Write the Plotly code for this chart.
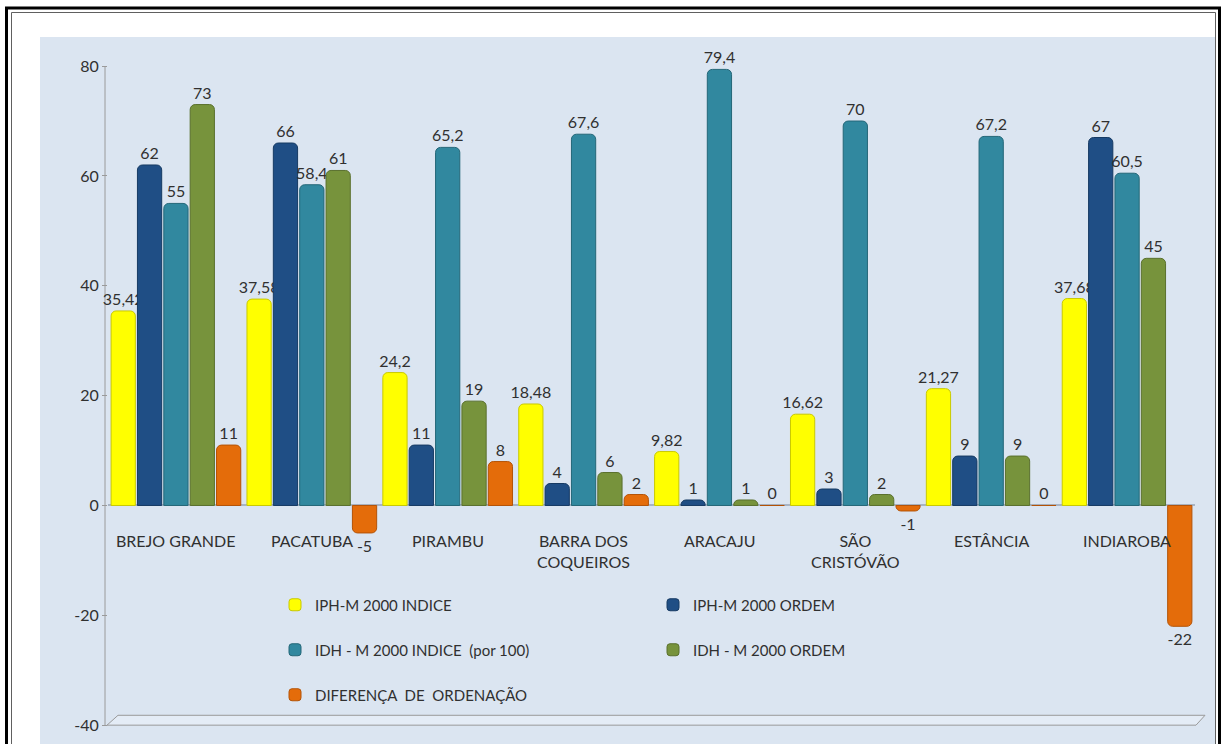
import plotly.graph_objects as go

categories = ["BREJO GRANDE", "PACATUBA", "PIRAMBU", "BARRA DOS<br>COQUEIROS",
              "ARACAJU", "SÃO<br>CRISTÓVÃO", "ESTÂNCIA", "INDIAROBA"]
iph_indice = [35.42, 37.58, 24.2, 18.48, 9.82, 16.62, 21.27, 37.68]
iph_ordem = [62, 66, 11, 4, 1, 3, 9, 67]
idh_indice = [55, 58.4, 65.2, 67.6, 79.4, 70, 67.2, 60.5]
idh_ordem = [73, 61, 19, 6, 1, 2, 9, 45]
diferenca = [11, -5, 8, 2, 0, -1, 0, -22]
y_ticks = [-40, -20, 0, 20, 40, 60, 80]

series_names = ["IPH-M 2000 INDICE", "IPH-M 2000 ORDEM", "IDH - M 2000 INDICE  (por 100)",
                "IDH - M 2000 ORDEM", "DIFERENÇA  DE  ORDENAÇÃO"]
series_values = [iph_indice, iph_ordem, idh_indice, idh_ordem, diferenca]
colors = ["#ffff00", "#1f4e85", "#31889f", "#77933c", "#e46c0a"]
edge_colors = ["#c9c900", "#163a63", "#246778", "#5a702d", "#b45306"]
legend_ids = ["legend", "legend", "legend2", "legend2", "legend3"]

FONT = "Lato, Roboto, sans-serif"

W, H = 1223, 744
ML, MR, MT, MB = 108, 28, 37, 4
PW, PH = W - ML - MR, H - MT - MB


def px_x(px):
    return (px - ML) / PW


def px_y(py):
    return 1 - (py - MT) / PH


def fmt(v):
    return f"{v:g}".replace(".", ",")


fig = go.Figure()
for name, vals, c, ec, lg in zip(series_names, series_values, colors, edge_colors, legend_ids):
    fig.add_trace(go.Bar(
        name=name, x=categories, y=vals,
        marker=dict(color=c, line=dict(color=ec, width=1), cornerradius=5),
        text=[fmt(v) for v in vals], textposition="outside",
        textfont=dict(family=FONT, size=16, color="#303030"),
        constraintext="none", cliponaxis=False, legend=lg,
    ))

# category labels placed under the zero line
for cat in categories:
    fig.add_annotation(x=cat, y=0, xref="x", yref="y", text=cat, showarrow=False,
                       yanchor="top", yshift=-24,
                       font=dict(family=FONT, size=16, color="#303030"))

shapes = [
    # blue chart-area background
    dict(type="rect", xref="paper", yref="paper", x0=px_x(40), x1=px_x(1215),
         y0=px_y(750), y1=px_y(37), fillcolor="#dbe5f1", line=dict(width=0), layer="below"),
    # outer double frame
    dict(type="rect", xref="paper", yref="paper", x0=px_x(6.5), x1=px_x(1219.5),
         y0=px_y(760), y1=px_y(8), line=dict(color="black", width=3), layer="above"),
    dict(type="rect", xref="paper", yref="paper", x0=px_x(11.5), x1=px_x(1215.5),
         y0=px_y(760), y1=px_y(12.5), line=dict(color="#606060", width=1), layer="above"),
    # vertical wall edge (axis line)
    dict(type="line", xref="paper", yref="y", x0=px_x(105), x1=px_x(105), y0=-40, y1=80,
         line=dict(color="#9a9a9a", width=1), layer="below"),
    # floor at -40
    dict(type="path", xref="paper", yref="y",
         path=f"M {px_x(107)},-40 L {px_x(118)},-38.2 L {px_x(1205)},-38.2 L {px_x(1196)},-40 Z",
         fillcolor="#e4ecf6", line=dict(color="#9a9a9a", width=1), layer="below"),
]

legend_common = dict(orientation="h", xanchor="left", yanchor="middle", entrywidth=333,
                     bgcolor="rgba(0,0,0,0)", font=dict(family=FONT, size=15, color="#303030"))

fig.update_layout(
    width=W, height=H,
    margin=dict(l=ML, r=MR, t=MT, b=MB),
    paper_bgcolor="white", plot_bgcolor="rgba(0,0,0,0)",
    barmode="group", bargap=0.03, bargroupgap=0.08,
    separators=",.",
    font=dict(family=FONT, size=15, color="#303030"),
    shapes=shapes,
    xaxis=dict(showticklabels=False, showgrid=False, zeroline=False, showline=False,
               range=[-0.5, 7.5]),
    yaxis=dict(range=[-42.7, 85.3], tickvals=y_ticks, ticktext=[str(t) for t in y_ticks],
               ticks="outside", ticklen=5, tickcolor="#9a9a9a", showgrid=False,
               zeroline=True, zerolinecolor="#a8b4c4", zerolinewidth=2, showline=False,
               tickfont=dict(family=FONT, size=16, color="#303030")),
    legend=dict(x=px_x(275), y=px_y(605), **legend_common),
    legend2=dict(x=px_x(275), y=px_y(650), **legend_common),
    legend3=dict(x=px_x(275), y=px_y(695), **legend_common),
)

fig.write_html("out.html", config={"displayModeBar": False},
               post_script="document.body.style.margin='0';document.body.style.overflow='hidden';")
